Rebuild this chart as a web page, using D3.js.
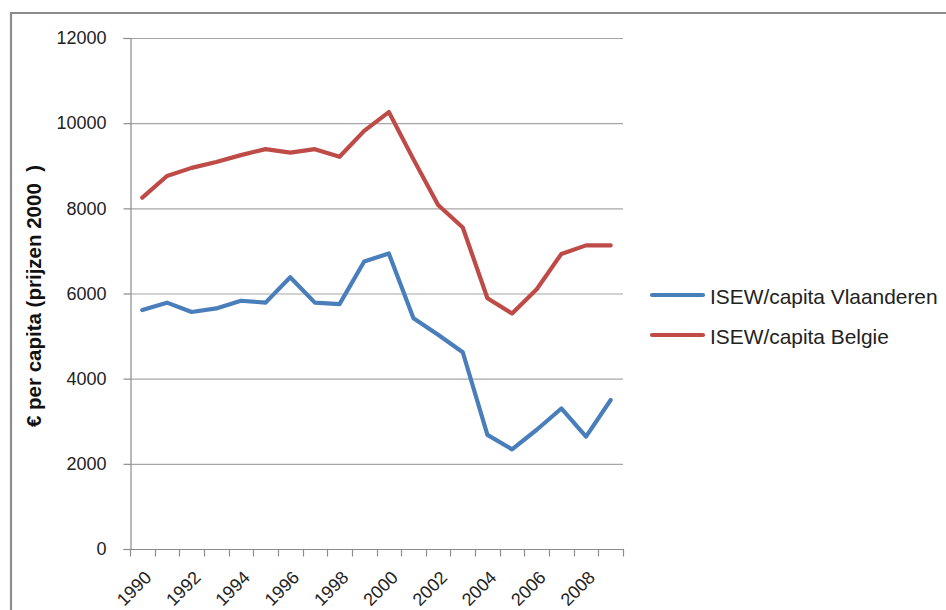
<!DOCTYPE html>
<html>
<head>
<meta charset="utf-8">
<script src="https://cdn.jsdelivr.net/npm/d3@7"></script>
<style>
html,body{margin:0;padding:0;background:#fff;}
svg{display:block;}
text{font-family:"Liberation Sans",Arial,sans-serif;}
</style>
</head>
<body>
<svg id="chart" width="946" height="610"></svg>
<script>
const years = [1990,1991,1992,1993,1994,1995,1996,1997,1998,1999,2000,2001,2002,2003,2004,2005,2006,2007,2008,2009];
const vlaanderen = [5610,5785,5565,5650,5830,5785,6380,5785,5750,6750,6940,5420,5030,4620,2680,2340,2800,3300,2640,3500];
const belgie = [8250,8760,8950,9090,9250,9390,9310,9390,9210,9820,10260,9150,8080,7550,5890,5530,6100,6930,7130,7130];
const yTicks = [0,2000,4000,6000,8000,10000,12000];
const xLabelYears = [1990,1992,1994,1996,1998,2000,2002,2004,2006,2008];
const seriesNames = ["ISEW/capita Vlaanderen","ISEW/capita Belgie"];
const seriesColors = ["#4a7ebb","#be4b48"];
const yTitle = "€ per capita (prijzen 2000  )";

(function(){
const svg = d3.select("#chart");
const pL = 130, pR = 623, pT = 38, pB = 549;

// outer frame
svg.append("path").attr("d","M11,620 L11,13 L960,13").attr("fill","none").attr("stroke","#8c8c8c").attr("stroke-width",2.2);

const x = d3.scaleBand().domain(years).range([pL,pR]);
const y = d3.scaleLinear().domain([0,12000]).range([pB,pT]);

// gridlines
svg.append("g").selectAll("line").data(yTicks.filter(d=>d>0)).join("line")
  .attr("x1",pL).attr("x2",pR).attr("y1",d=>y(d)+0.5).attr("y2",d=>y(d)+0.5)
  .attr("stroke","#a6a6a6").attr("stroke-width",1.2);

// y axis
const yAxis = svg.append("g").attr("transform",`translate(${pL+0.5},0)`)
  .call(d3.axisLeft(y).tickValues(yTicks).tickSize(7).tickPadding(17).tickFormat(d3.format("d")));
yAxis.select(".domain").attr("stroke","#8c8c8c").attr("stroke-width",1.2);
yAxis.selectAll(".tick line").attr("stroke","#8c8c8c").attr("stroke-width",1.2);
yAxis.selectAll("text").attr("font-size","18px").attr("fill","#222").attr("font-family","'Liberation Sans',Arial,sans-serif");

// x axis
const xb = d3.scaleLinear().domain([0,years.length]).range([pL,pR]);
const xAxisG = svg.append("g").attr("transform",`translate(0,${pB+0.5})`);
xAxisG.append("line").attr("x1",pL).attr("x2",pR+1).attr("stroke","#8c8c8c").attr("stroke-width",1.2);
xAxisG.selectAll("line.tk").data(d3.range(years.length+1)).join("line").attr("class","tk")
  .attr("x1",d=>Math.round(xb(d))+0.5).attr("x2",d=>Math.round(xb(d))+0.5).attr("y1",0).attr("y2",7)
  .attr("stroke","#8c8c8c").attr("stroke-width",1.2);
xAxisG.selectAll("text").data(xLabelYears).join("text")
  .attr("transform",d=>`translate(${x(d)+x.bandwidth()/2+1},${20}) rotate(-45)`)
  .attr("text-anchor","end").attr("dy","0.72em")
  .attr("font-size","18px").attr("fill","#222").text(d=>d);

// y title
svg.append("text").attr("transform",`translate(41,296) rotate(-90)`)
  .attr("text-anchor","middle").attr("font-size","20.5px").attr("font-weight","bold")
  .attr("fill","#111").style("white-space","pre").text(yTitle);

// lines
const line = d3.line().x((d,i)=>x(years[i])+x.bandwidth()/2).y(d=>y(d));
[vlaanderen,belgie].forEach((s,i)=>{
  svg.append("path").datum(s).attr("d",line).attr("fill","none")
    .attr("stroke",seriesColors[i]).attr("stroke-width",4.2).attr("stroke-linejoin","round").attr("stroke-linecap","round");
});

// legend
const lg = svg.append("g");
seriesNames.forEach((n,i)=>{
  const yy = 295 + i*40;
  lg.append("line").attr("x1",652).attr("x2",703).attr("y1",yy).attr("y2",yy)
    .attr("stroke",seriesColors[i]).attr("stroke-width",4.2).attr("stroke-linecap","round");
  lg.append("text").attr("x",710).attr("y",yy+9).attr("font-size","20.9px").attr("fill","#222").text(n);
});
})();
</script>
</body>
</html>
